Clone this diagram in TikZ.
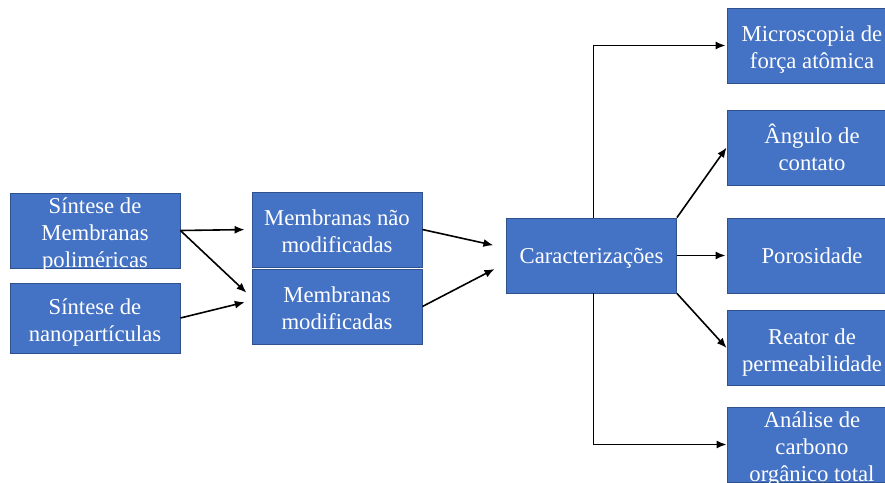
\documentclass[tikz,border=0pt]{standalone}
\usepackage{fontspec}
\setmainfont{Liberation Serif}
\usepackage{tikz}
\usetikzlibrary{arrows.meta,calc}
\definecolor{blkfill}{HTML}{4472C4}
\definecolor{blkedge}{HTML}{2F528F}
\tikzset{
  blk/.style={draw=blkedge, line width=0.8pt, fill=blkfill, text=white, minimum width=170pt, minimum height=75pt, inner sep=0pt, align=center, font=\fontsize{22.7pt}{27pt}\selectfont, text height=20pt, text depth=5pt},
  two/.style={text height=47pt, text depth=1pt},
  three/.style={text height=74pt, text depth=1pt},
  con/.style={draw, line width=1.6pt, -{Latex[length=10pt,width=8pt]}}
}
\begin{document}
\begin{tikzpicture}[x=1pt, y=-1pt]
\useasboundingbox (0,0) rectangle (885,482);
\clip (0,0) rectangle (885,482);
\node[blk, three] (sintmem) at (95,230.5) {Síntese de\\Membranas\\poliméricas};
\node[blk, two, minimum height=70pt] (sintnano) at (95,318) {Síntese de\\nanopartículas};
\node[blk, two] (naomod) at (337,229.5) {Membranas não\\modificadas};
\node[blk, two] (mod) at (337,306.5) {Membranas\\modificadas};
\node[blk] (carac) at (591.5,255.5) {Caracterizações};
\node[blk, two] (afm) at (812,45.5) {Microscopia de\\força atômica};
\node[blk, two] (angulo) at (812,147.5) {Ângulo de\\contato};
\node[blk] (poros) at (812,255.5) {Porosidade};
\node[blk, two] (reator) at (812,348) {Reator de\\permeabilidade};
\node[blk, three] (cot) at (812,444.5) {Análise de\\carbono\\orgânico total};
\draw[con, shorten >=7pt] (sintmem.east) -- (naomod.west);
\draw[con, shorten >=7pt] (sintmem.east) -- (mod.174);
\draw[con, shorten >=7pt] (sintnano.east) -- (mod.176);
\draw[con, shorten >=13pt] (naomod.east) -- (carac.175);
\draw[con, shorten >=13pt] (mod.east) -- (carac.185);
\draw[con, shorten >=1pt] ([xshift=2pt]carac.north) |- (afm.west);
\draw[con] (carac.north east) -- (angulo.west);
\draw[con, shorten >=1pt] (carac.east) -- (poros.west);
\draw[con] (carac.south east) -- (reator.west);
\draw[con] ([xshift=2pt]carac.south) |- (cot.west);
\end{tikzpicture}
\end{document}
